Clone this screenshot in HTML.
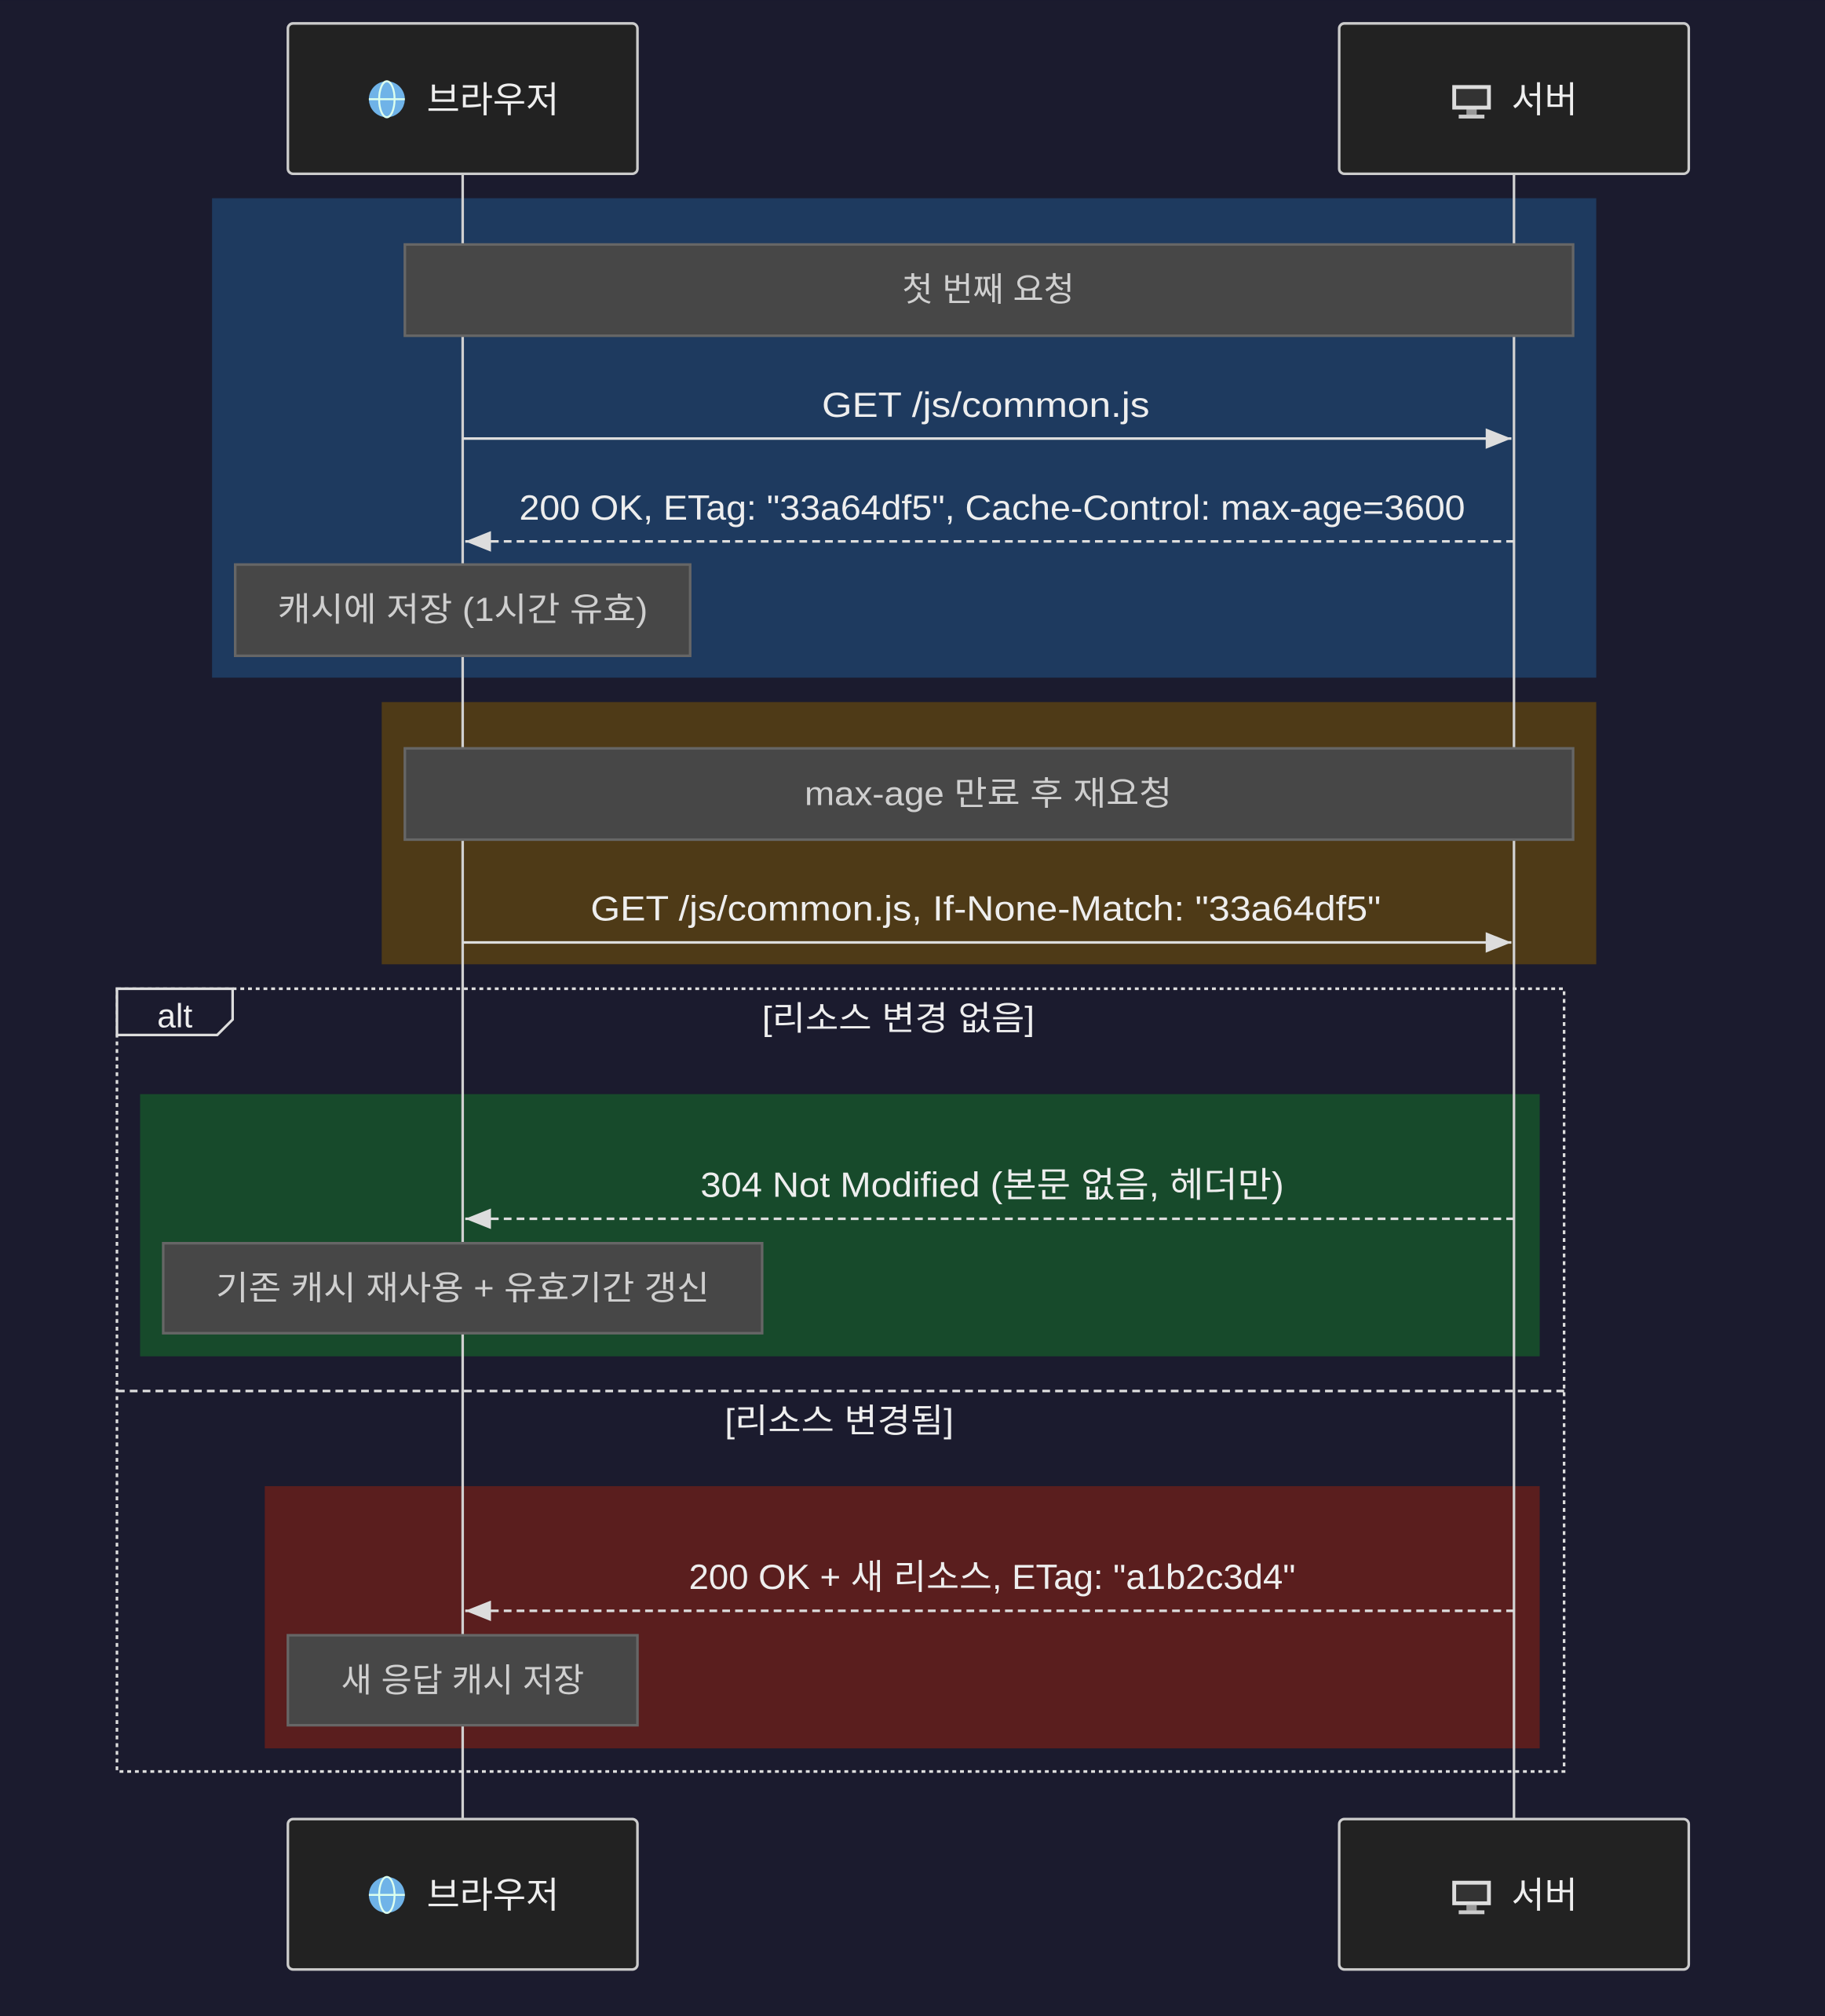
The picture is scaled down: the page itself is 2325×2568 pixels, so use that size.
<!DOCTYPE html>
<html><head><meta charset="utf-8"><style>
html,body{margin:0;padding:0;background:#1b1b2e;}
svg{display:block}
text{font-family:"Liberation Sans","Noto Sans CJK KR",sans-serif;}
</style></head><body>
<svg width="2325" height="2568" viewBox="0 0 1420 1568" xmlns="http://www.w3.org/2000/svg">
<defs>
<marker id="ahr" markerWidth="20" markerHeight="16" refX="20" refY="8" orient="auto" markerUnits="userSpaceOnUse">
<path d="M0,0 L20,8 L0,16 z" fill="#ddd"/></marker>
</defs>
<rect width="1420" height="1568" fill="#1b1b2e"/>
<rect x="165" y="154" width="1077" height="373" fill="#1e3a5f"/>
<rect x="297" y="546" width="945" height="204" fill="#4e3a17"/>
<rect x="109" y="851" width="1089" height="204" fill="#174a2b"/>
<rect x="206" y="1156" width="992" height="204" fill="#5a1e1e"/>
<line x1="360" y1="135" x2="360" y2="1415" stroke="#d0d0d0" stroke-width="2"/>
<line x1="1178" y1="135" x2="1178" y2="1415" stroke="#d0d0d0" stroke-width="2"/>
<rect x="91" y="769" width="1126" height="609" fill="none" stroke="#ddd" stroke-width="2" stroke-dasharray="3,3"/>
<path d="M91,769 L181,769 L181,793 L169,805 L91,805 z" fill="#1b1b2e" stroke="#ddd" stroke-width="2"/>
<text x="136" y="799" font-size="26" fill="#eee" text-anchor="middle">alt</text>
<text x="699" y="801" font-size="26" fill="#eee" text-anchor="middle" textLength="212" lengthAdjust="spacingAndGlyphs">[리소스 변경 없음]</text>
<line x1="91" y1="1082" x2="1217" y2="1082" stroke="#ddd" stroke-width="2" stroke-dasharray="6,4"/>
<text x="653" y="1114" font-size="26" fill="#eee" text-anchor="middle" textLength="178" lengthAdjust="spacingAndGlyphs">[리소스 변경됨]</text>
<g fill="#474747" stroke="#666" stroke-width="2">
<rect x="315" y="190" width="909" height="71"/>
<rect x="183" y="439" width="354" height="71"/>
<rect x="315" y="582" width="909" height="71"/>
<rect x="127" y="967" width="466" height="70"/>
<rect x="224" y="1272" width="272" height="70"/>
</g>
<g font-size="26" fill="#cfcfcf" text-anchor="middle">
<text x="769" y="234">첫 번째 요청</text>
<text x="360" y="483" textLength="288" lengthAdjust="spacingAndGlyphs">캐시에 저장 (1시간 유효)</text>
<text x="769" y="626" textLength="286" lengthAdjust="spacingAndGlyphs">max-age 만료 후 재요청</text>
<text x="360" y="1011" textLength="384" lengthAdjust="spacingAndGlyphs">기존 캐시 재사용 + 유효기간 갱신</text>
<text x="360" y="1316">새 응답 캐시 저장</text>
</g>
<g stroke="#ddd" stroke-width="2" fill="none">
<line x1="360" y1="341" x2="1176" y2="341" marker-end="url(#ahr)"/>
<line x1="1178" y1="421" x2="362" y2="421" stroke-dasharray="6,4" marker-end="url(#ahr)"/>
<line x1="360" y1="733" x2="1176" y2="733" marker-end="url(#ahr)"/>
<line x1="1178" y1="948" x2="362" y2="948" stroke-dasharray="6,4" marker-end="url(#ahr)"/>
<line x1="1178" y1="1253" x2="362" y2="1253" stroke-dasharray="6,4" marker-end="url(#ahr)"/>
</g>
<g font-size="27" fill="#eee" text-anchor="middle" lengthAdjust="spacingAndGlyphs">
<text x="767" y="324" textLength="255" lengthAdjust="spacingAndGlyphs">GET /js/common.js</text>
<text x="772" y="404" textLength="736" lengthAdjust="spacingAndGlyphs">200 OK, ETag: "33a64df5", Cache-Control: max-age=3600</text>
<text x="767" y="716" textLength="615" lengthAdjust="spacingAndGlyphs">GET /js/common.js, If-None-Match: "33a64df5"</text>
<text x="772" y="931" textLength="454" lengthAdjust="spacingAndGlyphs">304 Not Modified (본문 없음, 헤더만)</text>
<text x="772" y="1236" textLength="472" lengthAdjust="spacingAndGlyphs">200 OK + 새 리소스, ETag: "a1b2c3d4"</text>
</g>
<g fill="#222" stroke="#ccc" stroke-width="2">
<rect x="224" y="18" width="272" height="117" rx="4"/>
<rect x="1042" y="18" width="272" height="117" rx="4"/>
<rect x="224" y="1415" width="272" height="117" rx="4"/>
<rect x="1042" y="1415" width="272" height="117" rx="4"/>
</g>
<g id="globe">
<circle cx="301" cy="77" r="14" fill="#6fb3e8"/>
<ellipse cx="301" cy="77" rx="6" ry="14" fill="none" stroke="#dfe" stroke-width="1.5"/>
<line x1="287" y1="77" x2="315" y2="77" stroke="#dfe" stroke-width="1.5"/>
</g>
<use href="#globe" y="1397"/>
<g id="mon">
<rect x="1130" y="66" width="30" height="19" fill="#ddd"/>
<rect x="1133" y="69" width="24" height="13" fill="#333"/>
<rect x="1141" y="85" width="8" height="4" fill="#999"/>
<rect x="1135" y="89" width="20" height="3" fill="#ccc"/>
</g>
<use href="#mon" y="1397"/>
<g font-size="28" fill="#eee">
<text x="332" y="87">브라우저</text>
<text x="1176" y="87">서버</text>
<text x="332" y="1484">브라우저</text>
<text x="1176" y="1484">서버</text>
</g>
</svg>
</body></html>
